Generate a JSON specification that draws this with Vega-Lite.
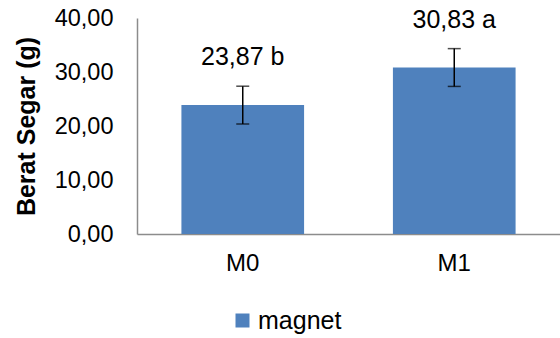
{
  "$schema": "https://vega.github.io/schema/vega-lite/v6.json",
  "autosize": {"type": "none"},
  "width": 423,
  "height": 216,
  "padding": {"left": 137, "top": 18, "right": 0, "bottom": 104},
  "background": "white",
  "config": {
    "font": "Liberation Sans",
    "view": {"stroke": null},
    "axis": {"grid": false, "ticks": false, "domainColor": "#8c8c8c", "domainWidth": 1.5, "labelColor": "#000000", "labelFont": "Liberation Sans"}
  },
  "data": {
    "values": [
      {"perlakuan": "M0", "berat": 23.87, "err": 3.5, "label": "23,87 b", "seri": "magnet"},
      {"perlakuan": "M1", "berat": 30.83, "err": 3.5, "label": "30,83 a", "seri": "magnet"}
    ]
  },
  "transform": [
    {"calculate": "datum.berat + datum.err", "as": "upper"},
    {"calculate": "datum.berat - datum.err", "as": "lower"}
  ],
  "encoding": {
    "x": {
      "field": "perlakuan",
      "type": "nominal",
      "scale": {"paddingInner": 0.42, "paddingOuter": 0.21},
      "axis": {"title": null, "labelAngle": 0, "labelFontSize": 24, "labelPadding": 17}
    }
  },
  "layer": [
    {
      "mark": {"type": "bar", "color": "#4F81BD"},
      "encoding": {
        "y": {
          "field": "berat",
          "type": "quantitative",
          "scale": {"domain": [0, 40]},
          "axis": {
            "values": [0, 10, 20, 30, 40],
            "labelExpr": "replace(format(datum.value, '.2f'), '.', ',')",
            "labelFontSize": 23.5,
            "labelPadding": 24,
            "title": "Berat Segar (g)",
            "titleFontSize": 25,
            "titleFontWeight": "bold",
            "titleColor": "#000000",
            "titleX": -111,
            "titleY": 108,
            "titleAngle": -90,
            "titleAlign": "center",
            "titleBaseline": "middle"
          }
        },
        "fill": {
          "field": "seri",
          "type": "nominal",
          "scale": {"range": ["#4F81BD"]},
          "legend": {
            "title": null,
            "orient": "none",
            "legendX": 93,
            "legendY": 290,
            "symbolType": "square",
            "symbolSize": 196,
            "symbolStrokeWidth": 0,
            "labelFontSize": 25,
            "labelOffset": 3,
            "labelColor": "#000000",
            "labelFont": "Liberation Sans"
          }
        }
      }
    },
    {
      "mark": {"type": "rule", "color": "#000000", "strokeWidth": 1.5},
      "encoding": {
        "y": {"field": "lower", "type": "quantitative"},
        "y2": {"field": "upper"}
      }
    },
    {
      "mark": {"type": "tick", "color": "#000000", "size": 13, "thickness": 1.5, "orient": "horizontal"},
      "encoding": {"y": {"field": "upper", "type": "quantitative"}}
    },
    {
      "mark": {"type": "tick", "color": "#000000", "size": 13, "thickness": 1.5, "orient": "horizontal"},
      "encoding": {"y": {"field": "lower", "type": "quantitative"}}
    },
    {
      "mark": {"type": "text", "fontSize": 25, "color": "#000000", "baseline": "alphabetic", "dy": -21},
      "encoding": {
        "y": {"field": "upper", "type": "quantitative"},
        "text": {"field": "label"}
      }
    }
  ]
}
